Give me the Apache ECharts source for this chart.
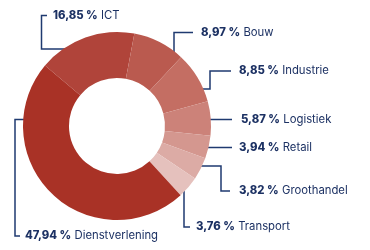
<!DOCTYPE html>
<html>
<head>
<meta charset="utf-8">
<script src="https://cdn.jsdelivr.net/npm/echarts@6/dist/echarts.min.js"></script>
<style>html,body{margin:0;padding:0;background:#fff}#c{width:370px;height:250px}</style>
</head>
<body>
<div id="c"></div>
<script>
var categories = ['ICT', 'Bouw', 'Industrie', 'Logistiek', 'Retail', 'Groothandel', 'Transport', 'Dienstverlening'];
var values = [16.85, 8.97, 8.85, 5.87, 3.94, 3.82, 3.76, 47.94];
var colors = ['#b0443a', '#ba5a4f', '#c46e63', '#cc8279', '#d4978f', '#dcaba5', '#e5c1bd', '#a93226'];

// label placement: text anchor [x, y] and label line polyline points
var labelLayouts = [
  {x: 53, y: 16, line: [[79, 49], [41.5, 49], [41.5, 15.5], [47, 15.5]]},
  {x: 201, y: 32.5, line: [[174, 56], [174, 32.5], [193, 32.5]]},
  {x: 239, y: 71, line: [[188, 89], [210, 89], [210, 71], [231, 71]]},
  {x: 241, y: 119.5, line: [[204, 119.5], [232, 119.5]]},
  {x: 239, y: 147.5, line: [[201.5, 147.5], [232, 147.5]]},
  {x: 239, y: 191, line: [[195, 166], [221, 166], [221, 191], [230, 191]]},
  {x: 196, y: 227, line: [[184, 179], [184, 227], [190, 227]]},
  {x: 25, y: 236, line: [[41.5, 119.5], [15, 119.5], [15, 236], [20, 236]]}
];

var chart = echarts.init(document.getElementById('c'), null, {renderer: 'canvas'});
chart.setOption({
  animation: false,
  series: [{
    type: 'pie',
    center: [117, 126],
    radius: [48, 94],
    startAngle: 140,
    clockwise: true,
    silent: true,
    data: categories.map(function (c, i) {
      return {name: c, value: values[i], itemStyle: {color: colors[i]}};
    }),
    label: {
      show: true,
      position: 'outside',
      width: 220,
      overflow: 'none',
      align: 'left',
      formatter: function (p) {
        return '{b|' + p.value.toFixed(2).replace('.', ',') + ' %} {n|' + p.name + '}';
      },
      rich: {
        b: {fontFamily: 'Inter', fontWeight: 800, fontSize: 11.3, color: '#1c3163'},
        n: {fontFamily: 'Inter', fontWeight: 'normal', fontSize: 11.3, color: '#1c3163'}
      }
    },
    labelLine: {
      show: true,
      lineStyle: {color: '#1f3a70', width: 1.5}
    },
    labelLayout: function (params) {
      var l = labelLayouts[params.dataIndex];
      return {
        x: l.x,
        y: l.y,
        align: 'left',
        verticalAlign: 'middle',
        labelLinePoints: l.line
      };
    },
    emphasis: {disabled: true}
  }]
});
</script>
</body>
</html>
